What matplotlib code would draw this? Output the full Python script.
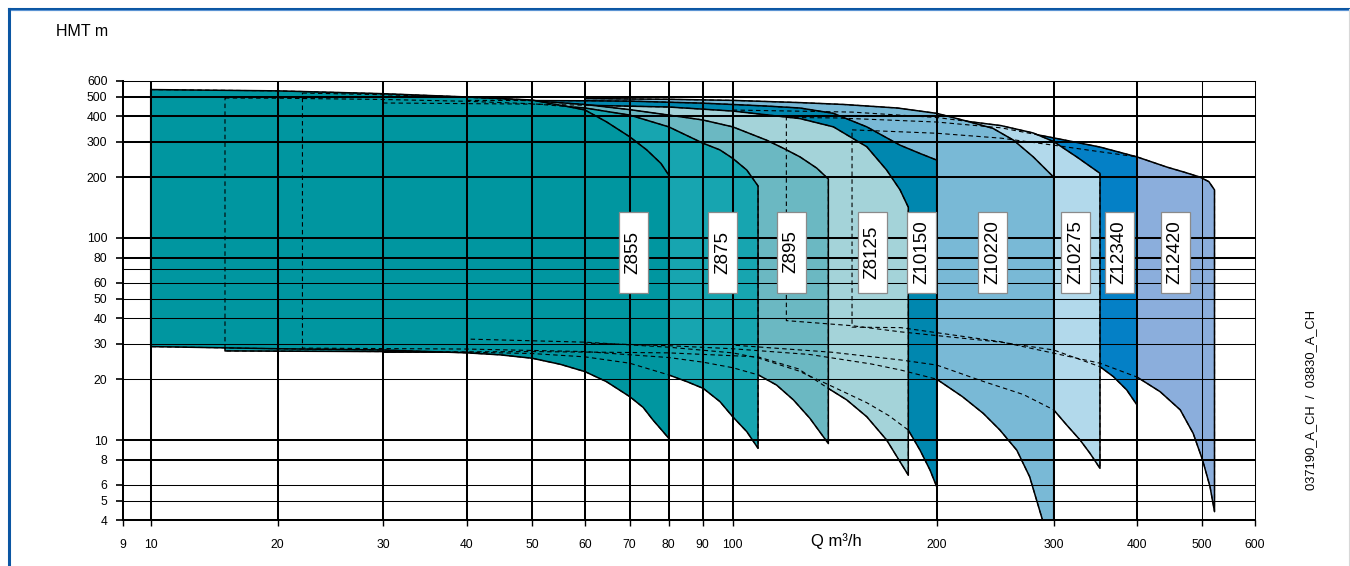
import numpy as np
import matplotlib
matplotlib.use("Agg")
import matplotlib.pyplot as plt
from matplotlib.patches import Polygon, Rectangle
from matplotlib.lines import Line2D
import matplotlib.transforms as mtransforms

plt.rcParams['font.family'] = ['Liberation Sans', 'DejaVu Sans']

# ---------------- data ----------------
x_ticks = [9, 10, 20, 30, 40, 50, 60, 70, 80, 90, 100, 200, 300, 400, 500, 600]
y_ticks = [4, 5, 6, 8, 10, 20, 30, 40, 50, 60, 80, 100, 200, 300, 400, 500, 600]

names = ["Z855", "Z875", "Z895", "Z8125", "Z10150", "Z10220", "Z10275", "Z12340", "Z12420"]

z855_q_top = [10, 20, 30, 40, 50, 53.1, 56.4, 60, 64.6, 70, 74.2, 77.9, 80]
z855_h_top = [543, 535, 518, 499, 482, 464, 448, 430, 376, 317, 273, 234, 205]
z855_q_bot = [10, 20, 30, 40, 44.8, 50, 55.1, 60, 64.6, 70, 73.3, 75.8, 78.1, 80]
z855_h_bot = [29, 28.3, 27.9, 27.0, 26.4, 25.4, 23.7, 21.8, 19.45, 16.4, 14.5, 12.56, 11.2, 10.2]

z875_q_top = [15, 20, 30, 40, 50, 60, 70, 80, 90, 95.6, 100, 104.9, 109]
z875_h_top = [493, 492, 485, 475, 462, 440, 406, 355, 295, 273, 248, 217, 181]
z875_q_bot = [15, 30, 40, 50, 60, 70, 80, 85.2, 90.2, 95.6, 100, 104.9, 109]
z875_h_bot = [27.6, 27.4, 27.2, 26.8, 25.8, 24.0, 21.0, 19.45, 18.0, 15.5, 13.04, 11.0, 9.1]

z895_q_top = [22, 30, 40, 50, 60, 70, 80, 90, 100, 112.2, 118.8, 125.7, 133, 138.4]
z895_h_top = [522, 512, 497, 478, 458, 432, 406, 384, 355, 305, 278, 252, 222, 196]
z895_q_bot = [22, 40, 60, 80, 90, 100, 109.1, 116.1, 122.9, 130, 138.4]
z895_h_bot = [28.5, 28.2, 27.4, 25.6, 24.3, 22.8, 21.0, 18.7, 15.8, 12.8, 9.6]

z8125_q_top = [30, 50, 80, 100, 125.7, 140.8, 157.7, 168.7, 176.6, 181.6]
z8125_h_top = [466, 460, 445, 425, 390, 355, 283, 217, 173, 142]
z8125_q_bot = [30, 50, 80, 109, 125, 138.4, 147.3, 157.7, 168.7, 181.6]
z8125_h_bot = [27.2, 27.4, 27.0, 25.8, 22.5, 18.0, 15.8, 13.04, 10.0, 6.7]

z10150_q_top = [40, 60, 70, 80, 90, 100, 112, 125.7, 140.8, 157.7, 176.6, 189, 200]
z10150_h_top = [480, 478, 476, 470, 465, 458, 450, 440, 414, 355, 288, 262, 243]
z10150_q_bot = [40, 60, 80, 100, 109, 125, 138.4, 157.7, 170, 181.6, 189, 195.5, 200]
z10150_h_bot = [31.6, 30.5, 28.8, 27.0, 25.5, 22.0, 18.8, 15.3, 13.2, 11.2, 8.9, 7.1, 5.87]

z10220_q_top = [60, 80, 100, 125.7, 146, 175, 200, 218.6, 243, 261, 279.5, 300]
z10220_h_top = [490, 486, 480, 468, 458, 440, 414, 384, 349, 305, 252, 200]
z10220_q_bot = [60, 80, 100, 130, 160, 177, 200, 218.6, 235, 249, 264, 276, 288.7, 300]
z10220_h_bot = [30.2, 29.3, 28.3, 26.5, 23.8, 22.2, 20.0, 16.4, 13.55, 11.2, 8.9, 6.58, 4.0, 2.8]

z10275_q_top = [100, 150, 200, 250, 279.5, 300, 324.8, 352]
z10275_h_top = [430, 420, 395, 360, 331, 300, 252, 209]
z10275_q_bot = [100, 140, 177, 200, 235, 270, 300, 313.8, 328.6, 340, 352]
z10275_h_bot = [29.5, 27.2, 24.9, 23.5, 19.5, 16.8, 14.1, 11.86, 10.0, 8.6, 7.24]

z12340_q_top = [120, 142, 200, 250, 300, 352, 400]
z12340_h_top = [395, 393, 375, 351, 313, 282, 252]
z12340_q_bot = [120, 150, 177, 250, 300, 352, 368.6, 386, 400]
z12340_h_bot = [39, 36.8, 34.3, 30.5, 27.9, 23.06, 20.6, 17.7, 14.9]

z12420_q_top = [150, 200, 250, 300, 350, 400, 444, 470, 497, 512, 522]
z12420_h_top = [343, 330, 312, 288, 268, 252, 224, 212, 200, 190, 173]
z12420_q_bot = [150, 177, 249, 300, 352, 400, 433, 464, 485, 501, 514, 522]
z12420_h_bot = [36.2, 36.0, 30.7, 26.9, 24.0, 20.5, 17.35, 14.1, 10.8, 7.96, 5.87, 4.42]

label_q = [70.8, 96.5, 122, 160.7, 190, 243, 324, 376, 456]

# ---------------- styles ----------------
colors = ["#0096A0", "#17A5B0", "#6BB8C2", "#A4D3D9", "#0087AF",
          "#79B9D6", "#B2D9EB", "#0480C6", "#8BAEDC"]

# printed (non-uniform) position of each x tick along the axis, 0..1
x_tick_frac = [0.0, 0.02473, 0.13689, 0.22989, 0.30407, 0.36148, 0.40829,
               0.44776, 0.48221, 0.51223, 0.53872, 0.71890, 0.82222,
               0.89579, 0.95319, 1.0]
log_ticks = np.log10(x_ticks)


def fwd(x):
    x = np.asarray(x, dtype=float)
    lx = np.log10(np.clip(x, 1e-6, None))
    return np.interp(lx, log_ticks, x_tick_frac)


def inv(u):
    u = np.asarray(u, dtype=float)
    return 10 ** np.interp(u, x_tick_frac, log_ticks)


W, H = 1350, 566
fig = plt.figure(figsize=(W / 100, H / 100), dpi=100)
fig.patch.set_facecolor("white")
ax_l, ax_r, ax_t, ax_b = 122.7, 1255.0, 80.8, 520.4
ax = fig.add_axes([ax_l / W, 1 - ax_b / H, (ax_r - ax_l) / W, (ax_b - ax_t) / H])
ax.set_xscale('function', functions=(fwd, inv))
ax.set_yscale('log')
ax.set_xlim(9, 600)
ax.set_ylim(4, 600)

pumps = [
    (z855_q_top, z855_h_top, z855_q_bot, z855_h_bot),
    (z875_q_top, z875_h_top, z875_q_bot, z875_h_bot),
    (z895_q_top, z895_h_top, z895_q_bot, z895_h_bot),
    (z8125_q_top, z8125_h_top, z8125_q_bot, z8125_h_bot),
    (z10150_q_top, z10150_h_top, z10150_q_bot, z10150_h_bot),
    (z10220_q_top, z10220_h_top, z10220_q_bot, z10220_h_bot),
    (z10275_q_top, z10275_h_top, z10275_q_bot, z10275_h_bot),
    (z12340_q_top, z12340_h_top, z12340_q_bot, z12340_h_bot),
    (z12420_q_top, z12420_h_top, z12420_q_bot, z12420_h_bot),
]

n = len(pumps)
polys = []
for i, (qt, ht, qb, hb) in enumerate(pumps):
    qs = list(qt) + list(qb)[::-1]
    hs = list(ht) + list(hb)[::-1]
    pts = np.column_stack([qs, hs])
    polys.append(pts)
    p = Polygon(pts, closed=True, facecolor=colors[i], edgecolor="black",
                linewidth=1.1, joinstyle="round", zorder=2 + (n - i) * 0.01)
    ax.add_patch(p)

# grid lines (drawn over fills)
x_thick = {10, 20, 30, 40, 50, 60, 70, 80, 90, 100, 200, 300, 400}
for v in x_ticks[1:-1]:
    ax.axvline(v, color="black", lw=1.45 if v in x_thick else 0.75, zorder=3)
y_thick = {8, 10, 80, 100, 200, 300, 400, 500}
for v in y_ticks[1:-1]:
    ax.axhline(v, color="black", lw=1.45 if v in y_thick else 0.75, zorder=3)
ax.axhline(70, color="black", lw=0.75, zorder=3)

# hidden outlines as dashes
for pts in polys:
    closed = np.vstack([pts, pts[:1]])
    ax.plot(closed[:, 0], closed[:, 1], color="black", lw=0.8,
            linestyle=(0, (4, 3)), zorder=4)

# spines
for s in ["left", "bottom"]:
    ax.spines[s].set_linewidth(1.45)
for s in ["top", "right"]:
    ax.spines[s].set_linewidth(0.75)
for s in ax.spines.values():
    s.set_zorder(5)

# ticks
ax.set_xticks(x_ticks)
ax.set_xticklabels([str(v) for v in x_ticks])
ax.xaxis.set_minor_locator(matplotlib.ticker.FixedLocator([100]))
ax.tick_params(axis="x", which="major", length=4.3, width=1.0, pad=9, labelsize=8.7)
ax.tick_params(axis="x", which="minor", length=9, width=1.0)
ax.set_yticks(y_ticks)
ax.set_yticklabels([str(v) for v in y_ticks])
ax.yaxis.set_minor_locator(matplotlib.ticker.NullLocator())
ax.tick_params(axis="y", which="major", length=5, width=1.2, pad=6, labelsize=8.7)

# labels in white boxes
blend = mtransforms.blended_transform_factory(ax.transAxes, ax.transData)
box_w = 29 / (ax_r - ax_l)
for name, q in zip(names, label_q):
    xc = float(fwd(q))
    rect = Rectangle((xc - box_w / 2, 53.5), box_w, 134.6 - 53.5, transform=blend,
                     facecolor="white", edgecolor="#8a8a8a", lw=0.9, zorder=6)
    ax.add_patch(rect)
    ax.text(xc, 85.2, name, transform=blend, rotation=90, ha="center", va="center",
            fontsize=13.5, zorder=7)

# axis titles
fig.text(56 / W, 1 - 31.5 / H, "HMT m", fontsize=11.5, ha="left", va="center")
fig.text(836 / W, 1 - 541 / H, "Q m³/h", fontsize=12, ha="center", va="center")
fig.text(1311 / W, 1 - 400 / H, "037190_A_CH  /  03830_A_CH", fontsize=9.3,
         rotation=90, ha="center", va="center")

# outer frame
fig.add_artist(Line2D([8.5 / W, 1349 / W], [1 - 8.5 / H, 1 - 8.5 / H],
                      transform=fig.transFigure, color="#0B56A3", lw=2.2))
fig.add_artist(Line2D([8.5 / W, 8.5 / W], [0, 1 - 8.5 / H],
                      transform=fig.transFigure, color="#0B56A3", lw=2.2))
fig.add_artist(Line2D([10.5 / W, 1349 / W], [1 - 10.3 / H, 1 - 10.3 / H],
                      transform=fig.transFigure, color="#5B93D3", lw=0.8))
fig.add_artist(Line2D([1349 / W, 1349 / W], [0, 1 - 8.5 / H],
                      transform=fig.transFigure, color="#d8d8d8", lw=0.8))

fig.savefig("out.png", dpi=100, facecolor="white")
